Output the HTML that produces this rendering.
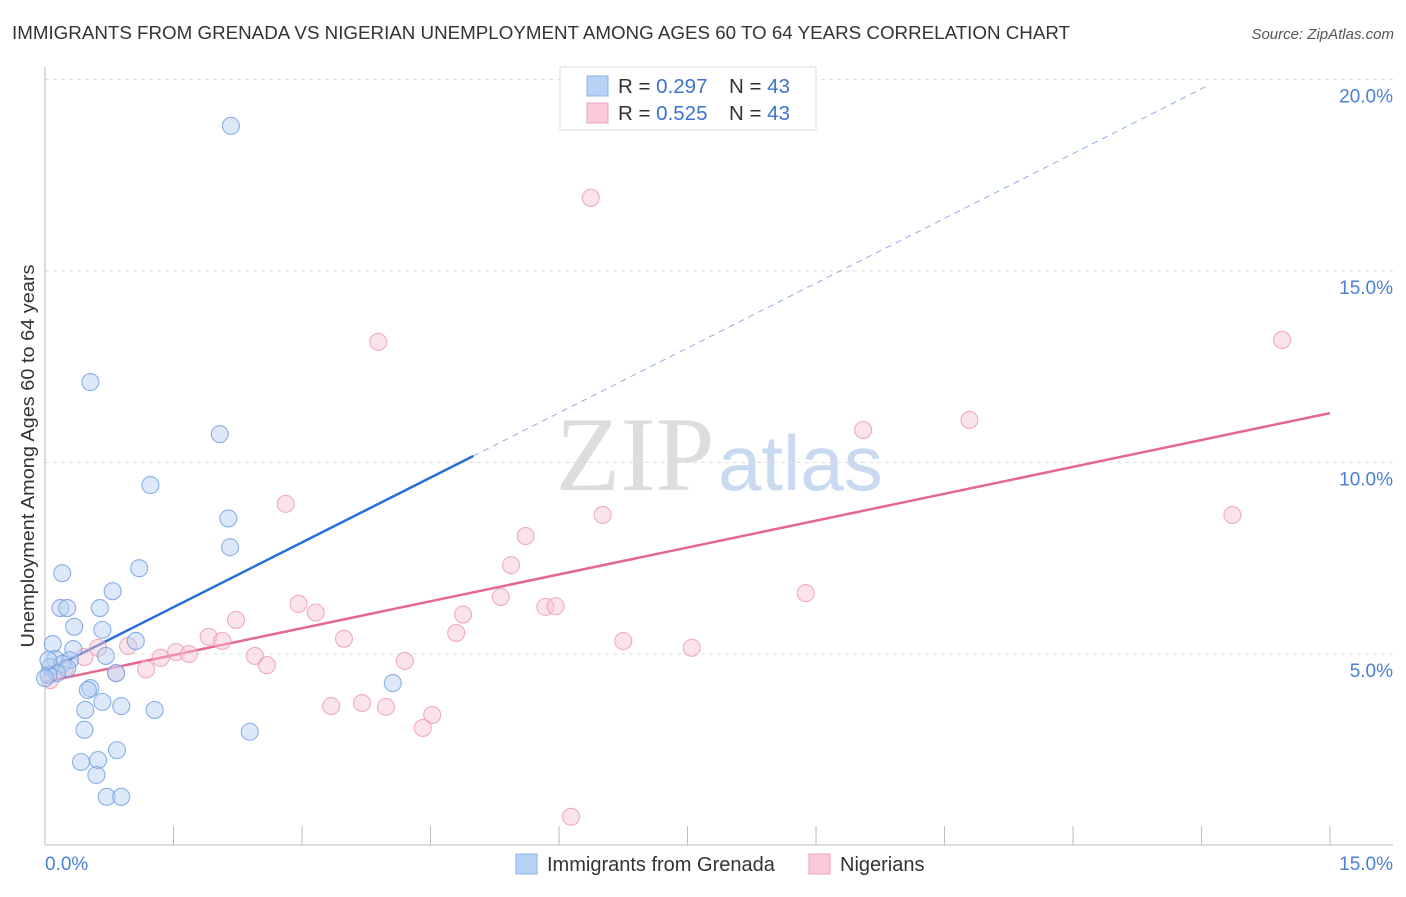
<!DOCTYPE html>
<html><head><meta charset="utf-8"><style>
body{margin:0;background:#fff;font-family:"Liberation Sans",sans-serif;}
svg text{font-family:"Liberation Sans",sans-serif;}
</style></head><body>
<svg id="chart" width="1406" height="892" xmlns="http://www.w3.org/2000/svg">
<text x="12" y="39" font-size="18.7" fill="#333" textLength="1058" lengthAdjust="spacingAndGlyphs">IMMIGRANTS FROM GRENADA VS NIGERIAN UNEMPLOYMENT AMONG AGES 60 TO 64 YEARS CORRELATION CHART</text>
<text x="1394" y="39" font-size="15" fill="#555" font-style="italic" text-anchor="end">Source: ZipAtlas.com</text>
<g>
<text x="635" y="490" font-size="106" fill="#ddd" text-anchor="middle" style="font-family:'Liberation Serif',serif">ZIP</text>
<text x="718" y="490" font-size="78" fill="#c8d9f0">atlas</text>
</g>
<g id="grid"></g>
<g id="axes"></g>
<g id="lines"></g>
<g id="points"></g>
<text transform="translate(34,456) rotate(-90)" font-size="18" fill="#333" text-anchor="middle" textLength="383" lengthAdjust="spacingAndGlyphs">Unemployment Among Ages 60 to 64 years</text>
<text x="45" y="870" font-size="19" fill="#4a7fd4">0.0%</text>
<text x="1393" y="870" font-size="19" fill="#4a7fd4" text-anchor="end">15.0%</text>
<g>
<rect x="560" y="67" width="256" height="63" fill="#fff" stroke="#ddd"/>
<rect x="587" y="76" width="21" height="20" fill="#b8d2f5" stroke="#8ab0e6"/>
<rect x="587" y="103" width="21" height="20" fill="#fbc9d8" stroke="#eea4bc"/>
<text x="618" y="93" font-size="20.5" fill="#333">R = <tspan fill="#3b73cf">0.297</tspan></text>
<text x="729" y="93" font-size="20.5" fill="#333">N = <tspan fill="#3b73cf">43</tspan></text>
<text x="618" y="120" font-size="20.5" fill="#333">R = <tspan fill="#3b73cf">0.525</tspan></text>
<text x="729" y="120" font-size="20.5" fill="#333">N = <tspan fill="#3b73cf">43</tspan></text>
</g>
<g>
<rect x="516" y="854" width="21" height="20" fill="#b8d2f5" stroke="#8ab0e6"/>
<text x="547" y="871" font-size="20" fill="#333">Immigrants from Grenada</text>
<rect x="809" y="854" width="21" height="20" fill="#fbc9d8" stroke="#eea4bc"/>
<text x="840" y="871" font-size="20" fill="#333">Nigerians</text>
</g>
</svg>
<script>
const yTicks=[5,10,15,20];
const yTickLabels=["5.0%","10.0%","15.0%","20.0%"];
const xTicks=[0,1.5,3,4.5,6,7.5,9,10.5,12,13.5,15];
const grenadaX=[2.17,0.53,2.04,1.23,2.14,2.16,1.10,0.20,0.79,0.18,0.26,0.64,0.34,0.67,1.06,0.09,0.33,0.71,0.12,0.29,0.06,0.20,0.26,0.14,0.04,0.83,0.00,0.53,0.50,0.67,0.89,1.28,0.47,0.46,2.39,0.84,0.42,0.62,0.60,0.72,0.89,4.06,0.04];
const grenadaY=[18.79,12.10,10.74,9.41,8.54,7.79,7.24,7.11,6.64,6.20,6.20,6.20,5.71,5.63,5.34,5.26,5.13,4.95,4.87,4.84,4.66,4.74,4.63,4.50,4.45,4.50,4.37,4.11,4.06,3.75,3.64,3.54,3.54,3.02,2.97,2.49,2.18,2.23,1.84,1.27,1.27,4.24,4.84];
const nigeriaX=[6.37,3.89,14.44,10.79,9.55,2.81,6.51,13.86,5.61,5.44,8.88,2.96,5.32,5.84,5.96,3.16,4.88,2.23,4.80,1.91,2.07,3.49,6.75,7.55,1.53,1.68,1.35,0.97,2.45,2.59,1.18,4.20,0.83,0.62,0.46,0.23,0.06,3.34,3.70,3.98,4.52,4.41,6.14];
const nigeriaY=[16.91,13.15,13.20,11.11,10.85,8.92,8.63,8.63,8.08,7.32,6.59,6.31,6.49,6.23,6.25,6.08,6.03,5.89,5.55,5.45,5.34,5.40,5.34,5.16,5.05,5.00,4.90,5.21,4.95,4.71,4.60,4.82,4.50,5.16,4.92,4.63,4.32,3.64,3.72,3.62,3.41,3.07,0.75];
const grenadaTrend=[4.53,1.128];
const nigeriaTrend=[4.27,0.468];
const NS="http://www.w3.org/2000/svg";
const X=v=>45+v*85.67, Y=v=>845.5-v*38.3;
function mk(t,a,p){const e=document.createElementNS(NS,t);for(const k in a)e.setAttribute(k,a[k]);document.getElementById(p).appendChild(e);return e;}
yTicks.forEach((t,i)=>{
 const g=mk('line',{x1:45,x2:1393,y1:Y(t),y2:Y(t),stroke:'#ddd','stroke-dasharray':'4,4'},'grid');
 
 
 const l=mk('text',{x:1393,y:Y(t)+23,'font-size':19,fill:'#4a7fd4','text-anchor':'end'},'grid');
 l.textContent=yTickLabels[i];
 
 
});
const ax=mk('line',{x1:45,x2:45,y1:67,y2:845,stroke:'#bbb'},'axes');


const bx=mk('line',{x1:45,x2:1393,y1:845,y2:845,stroke:'#bbb'},'axes');


xTicks.forEach(t=>{
 const k=mk('line',{x1:X(t),x2:X(t),y1:826,y2:845,stroke:'#bbb'},'axes');
 
 
});
function series(xs,ys,fill,stroke,name){
 xs.forEach((x,i)=>{
  const c=mk('circle',{cx:X(x),cy:Y(ys[i]),r:8.5,fill:fill,'fill-opacity':0.45,stroke:stroke,'stroke-opacity':0.8,'stroke-width':1.1},'points');
  
  
 });
}
series(nigeriaX,nigeriaY,'#f7c0d2','#eb9ab6','nigerians-point');
series(grenadaX,grenadaY,'#b3cff2','#6f9de0','grenada-point');
const gl=(x)=>grenadaTrend[0]+grenadaTrend[1]*x;
const l1=mk('line',{x1:X(0),y1:Y(gl(0)),x2:X(5),y2:Y(gl(5)),stroke:'#2a6fd6','stroke-width':2.5},'lines');


const l2=mk('line',{x1:X(5),y1:Y(gl(5)),x2:X(13.55),y2:Y(gl(13.55)),stroke:'#8ab0e6','stroke-width':1,'stroke-dasharray':'6,5'},'lines');


const nl=(x)=>nigeriaTrend[0]+nigeriaTrend[1]*x;
const l3=mk('line',{x1:X(0),y1:Y(nl(0)),x2:X(15),y2:Y(nl(15)),stroke:'#e5678f','stroke-width':2.5},'lines');


</script>
</body></html>
